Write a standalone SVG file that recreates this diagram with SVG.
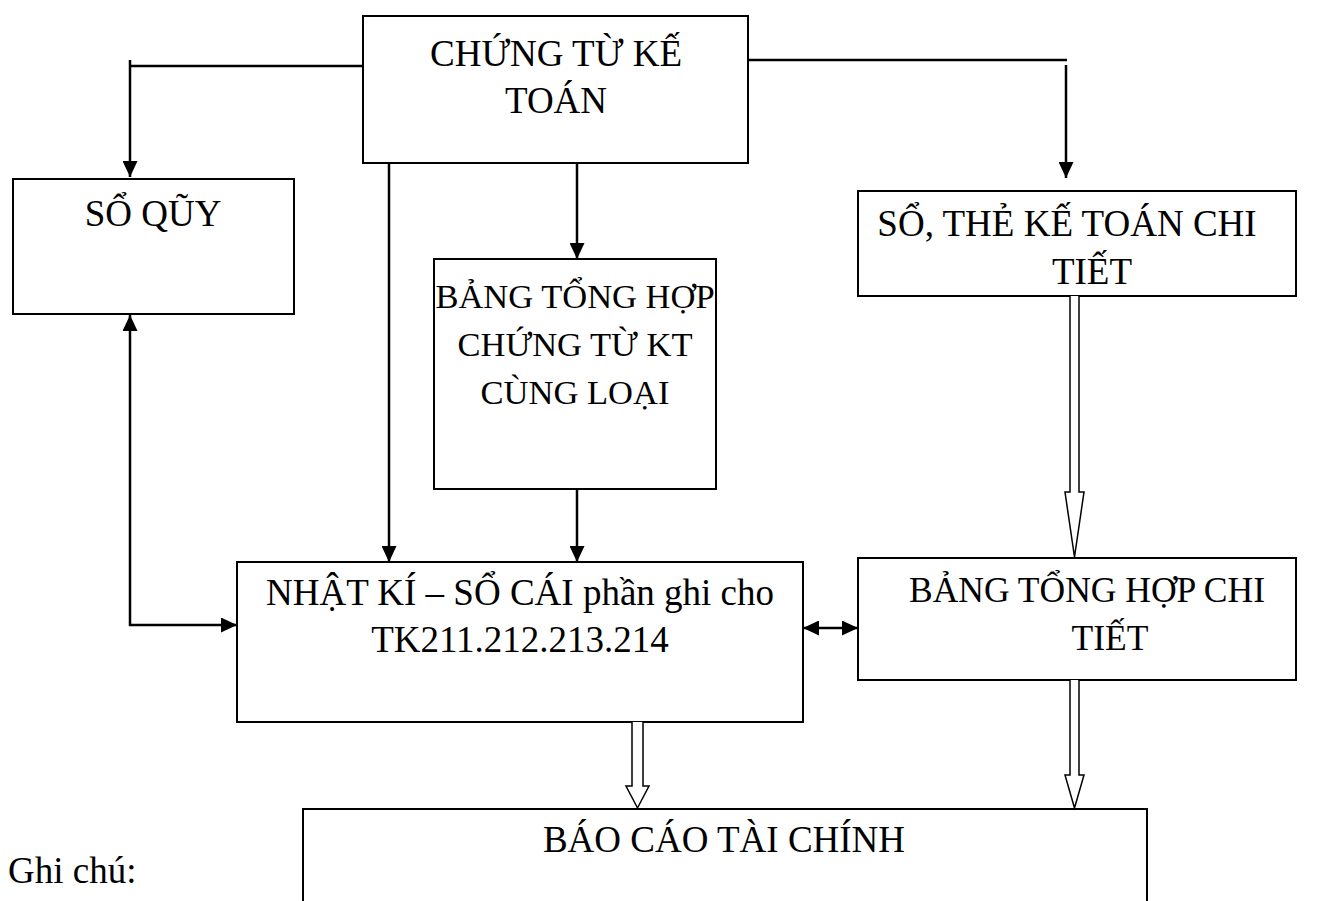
<svg xmlns="http://www.w3.org/2000/svg" width="1328" height="901" viewBox="0 0 1328 901">
  <style>
    .box { fill: #fff; stroke: #000; stroke-width: 2; }
    .lbl { font-family: "Liberation Serif", "Times New Roman", "DejaVu Serif", serif; font-size: 37px; fill: #000; text-anchor: middle; }
    .sm { font-size: 34.5px; }
    .md { font-size: 35.5px; }
    .note { font-family: "Liberation Serif", "Times New Roman", "DejaVu Serif", serif; font-size: 37px; fill: #000; }
    .con { fill: none; stroke: #000; stroke-width: 2.5; }
    .hollow { fill: #fff; stroke: #000; stroke-width: 1.5; stroke-linejoin: miter; }
  </style>
  <defs>
    <marker id="ah" viewBox="0 0 16 15" refX="16" refY="7.5" markerWidth="16" markerHeight="15" markerUnits="userSpaceOnUse" orient="auto-start-reverse">
      <path d="M0,0 L16,7.5 L0,15 z" fill="#000"/>
    </marker>
  </defs>
  <rect width="1328" height="901" fill="#fff"/>

  <!-- nodes -->
  <g id="chung-tu-ke-toan">
    <rect class="box" x="363" y="16" width="385" height="147"/>
    <text class="lbl" x="556" y="66">CHỨNG TỪ KẾ</text>
    <text class="lbl" x="556" y="113">TOÁN</text>
  </g>
  <g id="so-quy">
    <rect class="box" x="13" y="179" width="281" height="135"/>
    <text class="lbl" x="153" y="226">SỔ QŨY</text>
  </g>
  <g id="bang-tong-hop-chung-tu">
    <rect class="box" x="434" y="259" width="282" height="230"/>
    <text class="lbl sm" x="575" y="308">BẢNG TỔNG HỢP</text>
    <text class="lbl sm" x="575" y="356">CHỨNG TỪ KT</text>
    <text class="lbl sm" x="575" y="404">CÙNG LOẠI</text>
  </g>
  <g id="so-the-chi-tiet">
    <rect class="box" x="858" y="191" width="438" height="105"/>
    <text class="lbl" x="1067" y="236">SỔ, THẺ KẾ TOÁN CHI</text>
    <text class="lbl" x="1092" y="284">TIẾT</text>
  </g>
  <g id="nhat-ki-so-cai">
    <rect class="box" x="237" y="562" width="566" height="160"/>
    <text class="lbl" x="520" y="605">NHẬT KÍ – SỔ CÁI phần ghi cho</text>
    <text class="lbl" x="520" y="652">TK211.212.213.214</text>
  </g>
  <g id="bang-tong-hop-chi-tiet">
    <rect class="box" x="858" y="558" width="438" height="122"/>
    <text class="lbl md" x="1087" y="602">BẢNG TỔNG HỢP CHI</text>
    <text class="lbl md" x="1110" y="650">TIẾT</text>
  </g>
  <g id="bao-cao-tai-chinh">
    <path class="box" d="M303,905 V809 H1147 V905"/>
    <text class="lbl" x="724" y="852">BÁO CÁO TÀI CHÍNH</text>
  </g>
  <g id="ghi-chu">
    <text class="note" x="8" y="883">Ghi chú:</text>
  </g>

  <!-- connectors -->
  <g id="connectors">
    <line class="con" x1="363" y1="66" x2="130" y2="66"/>
    <line class="con" x1="130" y1="60" x2="130" y2="177" marker-end="url(#ah)"/>
    <line class="con" x1="748" y1="60" x2="1067" y2="60"/>
    <line class="con" x1="1066" y1="65" x2="1066" y2="178" marker-end="url(#ah)"/>
    <line class="con" x1="389" y1="163" x2="389" y2="562" marker-end="url(#ah)"/>
    <line class="con" x1="577" y1="163" x2="577" y2="259" marker-end="url(#ah)"/>
    <line class="con" x1="577" y1="489" x2="577" y2="562" marker-end="url(#ah)"/>
    <path class="con" d="M130,315 V625 H237" marker-start="url(#ah)" marker-end="url(#ah)"/>
    <line class="con" x1="803" y1="628" x2="858" y2="628" marker-start="url(#ah)" marker-end="url(#ah)"/>
    <path class="hollow" d="M1070,296 V492 H1065 L1074.5,557 L1084,492 H1079 V296"/>
    <path class="hollow" d="M632,722 V786 H626 L637.5,808 L649,786 H643 V722"/>
    <path class="hollow" d="M1070,680 V775 H1065 L1074.5,808 L1084,775 H1079 V680"/>
  </g>
</svg>
